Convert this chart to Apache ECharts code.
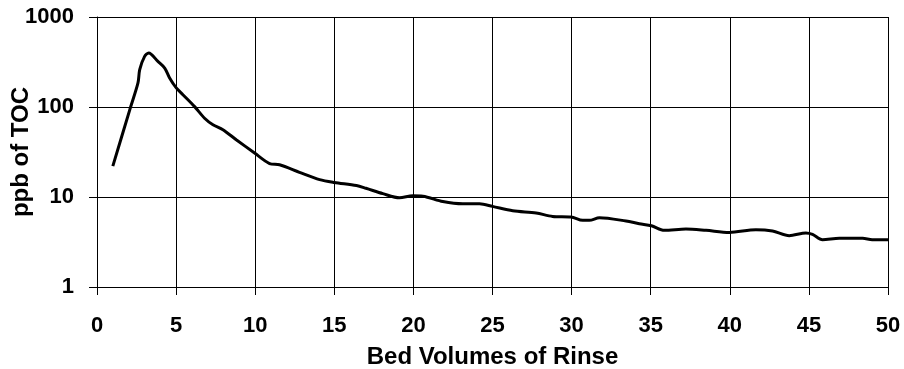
<!DOCTYPE html>
<html><head><meta charset="utf-8">
<script src="https://cdn.jsdelivr.net/npm/echarts@6/dist/echarts.min.js"></script>
<style>html,body{margin:0;padding:0;background:#fff}#c{width:904px;height:369px}</style>
</head><body><div id="c"></div>
<script>
const bedVolumes = [1.0, 2.07, 2.59, 2.7, 3.01, 3.27, 3.85, 4.28, 4.59, 5.01, 5.43, 6.17, 6.8, 7.33, 7.96, 8.8, 9.96, 10.91, 11.54, 12.8, 14.07, 15.0, 16.4, 17.0, 18.07, 19.12, 19.96, 20.6, 21.86, 23.12, 24.18, 25.0, 26.28, 27.76, 28.8, 29.97, 30.7, 31.12, 31.76, 33.44, 34.28, 35.05, 35.86, 37.23, 38.5, 39.97, 41.65, 42.7, 43.76, 44.81, 45.23, 45.86, 46.92, 48.4, 49.0, 50.0];
const tocPpb = [22, 93, 185, 260, 365, 398, 321, 271, 210, 163, 137, 101, 75, 63.5, 56, 43.3, 30.8, 23.5, 22.8, 18.8, 15.6, 14.5, 13.4, 12.5, 10.9, 9.8, 10.3, 10.2, 8.9, 8.4, 8.4, 7.87, 7.04, 6.64, 6.09, 6.0, 5.5, 5.5, 5.89, 5.41, 5.05, 4.8, 4.26, 4.41, 4.26, 4.04, 4.33, 4.19, 3.72, 3.98, 3.84, 3.36, 3.47, 3.47, 3.36, 3.36];
const xTicks = [0, 5, 10, 15, 20, 25, 30, 35, 40, 45, 50];
const yTicks = [1, 10, 100, 1000];
const yTickLabels = ['1', '10', '100', '1000'];

const font = 'Liberation Sans, Arial, sans-serif';
const chart = echarts.init(document.getElementById('c'));
chart.setOption({
  animation: false,
  grid: {left: 97, right: 16, top: 17, bottom: 82, containLabel: false, outerBoundsMode: 'none'},
  xAxis: {
    type: 'value', min: xTicks[0], max: xTicks[xTicks.length - 1], interval: 5,
    name: 'Bed Volumes of Rinse', nameLocation: 'middle', nameGap: 58, nameMoveOverlap: false,
    nameTextStyle: {fontFamily: font, fontWeight: 'bold', fontSize: 24, color: '#000'},
    axisLine: {lineStyle: {color: '#000', width: 1}},
    axisTick: {show: true, length: 8, lineStyle: {color: '#000'}},
    axisLabel: {fontFamily: font, fontWeight: 'bold', fontSize: 22, color: '#000', margin: 28},
    splitLine: {show: true, lineStyle: {color: '#000', width: 1}}
  },
  yAxis: {
    type: 'log', logBase: 10, min: yTicks[0], max: yTicks[yTicks.length - 1],
    name: 'ppb of TOC', nameLocation: 'middle', nameGap: 64, nameRotate: 90, nameMoveOverlap: false,
    nameTextStyle: {fontFamily: font, fontWeight: 'bold', fontSize: 24, color: '#000'},
    axisLine: {show: true, lineStyle: {color: '#000', width: 1}},
    axisTick: {show: true, length: 8, lineStyle: {color: '#000'}},
    axisLabel: {fontFamily: font, fontWeight: 'bold', fontSize: 22, color: '#000', margin: 23,
      formatter: v => yTickLabels[yTicks.indexOf(Math.round(v))] ?? String(v)},
    splitLine: {show: true, lineStyle: {color: '#000', width: 1}},
    minorTick: {show: false}
  },
  series: [{
    type: 'line', data: bedVolumes.map((x, i) => [x, tocPpb[i]]),
    smooth: 0.3, showSymbol: false, symbol: 'none',
    lineStyle: {color: '#000', width: 3}
  }]
});
</script></body></html>
